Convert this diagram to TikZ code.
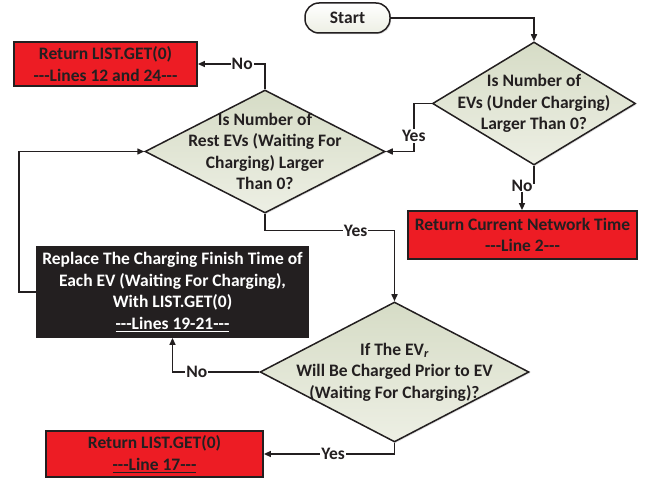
\documentclass[tikz,border=0pt]{standalone}
\usepackage{fontspec}
\setmainfont{Carlito}
\usetikzlibrary{shapes.geometric,arrows.meta,shadows}
\definecolor{ink}{HTML}{231F20}
\definecolor{alarm}{HTML}{ED1C24}
\definecolor{sagetop}{HTML}{D6DCC6}
\definecolor{sagebot}{HTML}{EDEFE4}
% three plain hyphens, kept apart so they do not join into a dash
\newcommand\trihyph{\hbox{-}\hbox{-}\hbox{-}}
\tikzset{
  every node/.style={font=\fontsize{17.5}{21.5}\selectfont\bfseries, text=ink},
  shade/.style={drop shadow={opacity=0.25, shadow xshift=1.2pt, shadow yshift=-1.2pt}},
  retbox/.style={draw=ink, line width=1.8pt, fill=alarm, align=center, inner sep=0pt, shade},
  darkbox/.style={draw=ink, line width=1.8pt, fill=ink, align=center, inner sep=0pt, shade},
  decision/.style={diamond, draw=ink, line width=1.5pt, top color=sagetop, bottom color=sagebot, inner sep=0pt, shade},
  terminal/.style={draw=ink, line width=1.5pt, rounded corners=14pt, top color=white, bottom color=sagebot, inner sep=0pt, shade},
  flow/.style={draw=ink, line width=1.5pt, -{Triangle[length=7pt,width=6pt]}},
  tag/.style={fill=white, inner sep=1pt},
  txt/.style={align=center, inner sep=0pt}
}
\begin{document}
\begin{tikzpicture}[x=1pt,y=-1pt]
\useasboundingbox (0,0) rectangle (654,481);

% terminal
\node[terminal, minimum width=85pt, minimum height=30pt] (start) at (347.5,18) {Start};

% decisions (shape first, wording on top)
\node[decision, minimum width=203pt, minimum height=123pt] (d1) at (534,103.5) {};
\node[txt] (d1t) at (534,103.5) {Is Number of\\EVs (Under Charging)\\Larger Than 0?};

\node[decision, minimum width=240pt, minimum height=123pt] (d2) at (265,151.5) {};
\node[txt] (d2t) at (265,151.5) {Is Number of\\Rest EVs (Waiting For\\Charging) Larger\\Than 0?};

\node[decision, minimum width=269pt, minimum height=140pt] (d3) at (394.5,372) {};
\node[txt] (d3t) at (394.5,372) {If The EV\textsubscript{\itshape r}\\Will Be Charged Prior to EV\\(Waiting For Charging)?};

% outcomes
\node[retbox, minimum width=183pt, minimum height=44pt] (ret1) at (105.5,64) {Return LIST.GET(0)\\\trihyph Lines 12 and 24\trihyph};
\node[retbox, minimum width=229pt, minimum height=48pt] (ret2) at (522.5,235) {Return Current Network Time\\\trihyph Line 2\trihyph};
\node[retbox, minimum width=217pt, minimum height=46pt] (ret3) at (154.5,454) {Return LIST.GET(0)\\\underline{\trihyph Line 17\trihyph}};
\node[darkbox, minimum width=271pt, minimum height=90pt, text=white] (blk) at (172.5,292)
  {Replace The Charging Finish Time of\\Each EV (Waiting For Charging),\\With LIST.GET(0)\\\underline{\trihyph Lines 19-21\trihyph}};

% connectors
\draw[flow] (start.east) -| (d1.north);
\draw[flow] (d1.west) -- ++(-18,0) |- node[tag, pos=0.34] (y1) {Yes} (d2.east);
\draw[draw=ink, line width=1.5pt] (d1.south) -- ++(0,18) coordinate (n1);
\node[inner sep=0pt] (no1) at (522,186) {No};
\draw[flow] (no1.south) -- (no1.south |- ret2.north);
\draw[flow] (d2.north) |- node[tag, pos=0.67] (n2) {No} (ret1.east);
\draw[flow] (d2.south) -- ++(0,17) -| node[tag, pos=0.35] (y2) {Yes} (d3.north);
\draw[flow] (d3.west) -| node[tag, pos=0.36] (n3) {No} (blk.south);
\draw[flow] (blk.west) -- ++(-17,0) |- (d2.west);
\draw[flow] (d3.south) |- node[tag, pos=0.735] (y3) {Yes} (ret3.east);
\end{tikzpicture}
\end{document}
